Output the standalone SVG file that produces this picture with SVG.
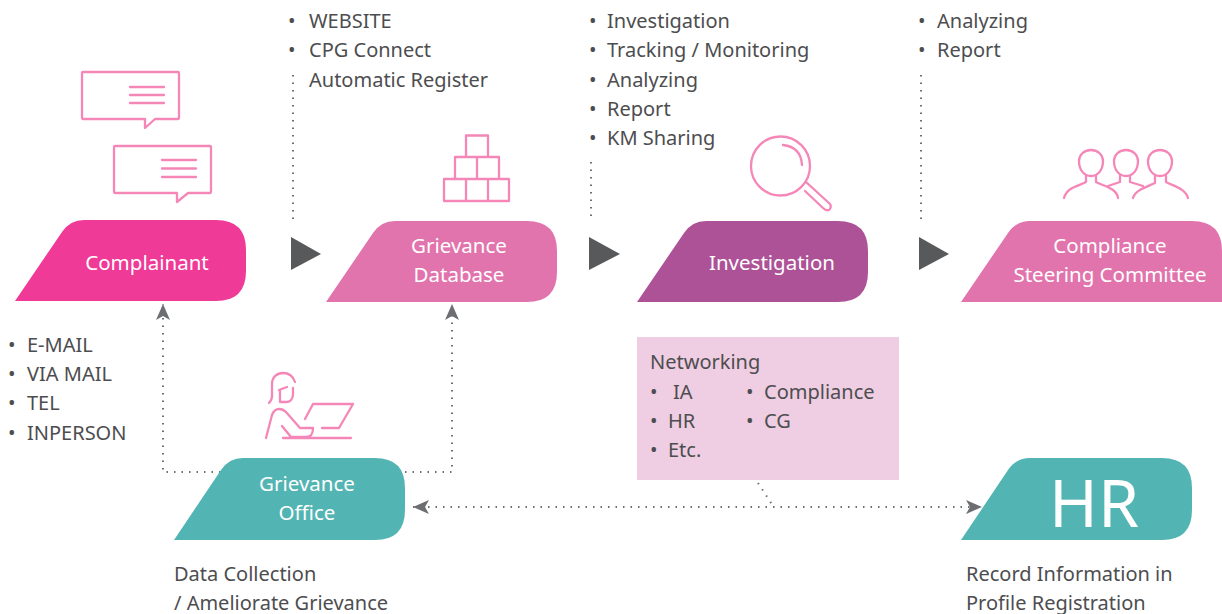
<svg xmlns="http://www.w3.org/2000/svg" width="1222" height="614" viewBox="0 0 1222 614">
<style>
text{font-family:"Noto Sans","Open Sans",sans-serif;font-size:20px;fill:#4d4d4f}
.w{fill:#fff;text-anchor:middle;font-size:20.500px}
.i{fill:none;stroke:#f587b8;stroke-width:2.300;stroke-linecap:round;stroke-linejoin:round}
.d{fill:none;stroke:#6d6e71;stroke-width:2;stroke-dasharray:1.5 6}
.t{fill:#58595b}
</style>
<defs>
<marker id="a" markerWidth="18" markerHeight="16" refX="16" refY="7" orient="auto-start-reverse" markerUnits="userSpaceOnUse"><path d="M0,0L16,7L0,14L4,7Z" fill="#6d6e71"/></marker>
</defs>
<g id="connectors">
<path class="d" d="M293,75V221M591,162V221M921,75V221"/>
<path class="d" d="M228,472H163V304" marker-end="url(#a)"/>
<path class="d" d="M405,472H452V304" marker-end="url(#a)"/>
<path class="d" d="M413,507H982" marker-start="url(#a)" marker-end="url(#a)"/>
<path class="d" d="M758,483L773,506"/>
<path class="t" d="M291,237L321,254L291,270Z"/>
<path class="t" d="M589,237L620,254L589,270Z"/>
<path class="t" d="M919,237L949,254L919,270Z"/>
</g>
<g id="complainant">
<path d="M15,301L62,232Q70,220 84,220H216Q246,220 246,250V271Q246,301 216,301Z" fill="#ef3a97"/>
<text class="w" x="147" y="270">Complainant</text>
<path class="i" d="M83,72H178Q179,72 179,73V118Q179,119 178,119H155L145,128V119H83Q82,119 82,118V73Q82,72 83,72Z"/>
<path class="i" d="M130,87H164M130,95H164M130,103H164"/>
<path class="i" d="M115,146H210Q211,146 211,147V192Q211,193 210,193H188L177,202V193H115Q114,193 114,192V147Q114,146 115,146Z"/>
<path class="i" d="M162,160H196M162,168.500H196M162,177H196"/>
<text x="8" y="352">•</text><text x="27" y="352">E-MAIL</text>
<text x="8" y="381">•</text><text x="27" y="381">VIA MAIL</text>
<text x="8" y="410">•</text><text x="27" y="410">TEL</text>
<text x="8" y="440">•</text><text x="27" y="440">INPERSON</text>
</g>
<g id="grievance-database">
<path d="M326,302L373,233Q381,221 395,221H527Q557,221 557,251V272Q557,302 527,302Z" fill="#e274ad"/>
<text class="w" x="459" y="253">Grievance</text>
<text class="w" x="459" y="282">Database</text>
<path class="i" d="M466,135.500H488V157H466ZM455,157H477V179H455ZM477,157H499V179H477ZM444,179H466V201H444ZM466,179H488V201H466ZM488,179H509V201H488Z"/>
<text x="288" y="28">•</text><text x="309" y="28">WEBSITE</text>
<text x="288" y="57">•</text><text x="309" y="57">CPG Connect</text>
<text x="309" y="87">Automatic Register</text>
</g>
<g id="investigation">
<path d="M637,302L684,233Q692,221 706,221H838Q868,221 868,251V272Q868,302 838,302Z" fill="#ae5297"/>
<text class="w" x="772" y="270">Investigation</text>
<circle class="i" cx="780.500" cy="166" r="29.500"/>
<path class="i" d="M783,145Q801,147 802,165M806,182L830,204Q832,207 829,210Q826,211 823,208L805,191"/>
<text x="589" y="28">•</text><text x="607" y="28">Investigation</text>
<text x="589" y="57">•</text><text x="607" y="57">Tracking / Monitoring</text>
<text x="589" y="87">•</text><text x="607" y="87">Analyzing</text>
<text x="589" y="116">•</text><text x="607" y="116">Report</text>
<text x="589" y="145">•</text><text x="607" y="145">KM Sharing</text>
</g>
<g id="compliance-steering-committee">
<path d="M961,302L1008,233Q1016,221 1030,221H1192Q1222,221 1222,251V302Z" fill="#e274ad"/>
<text class="w" x="1110" y="253">Compliance</text>
<text class="w" x="1110" y="282">Steering Committee</text>
<path class="i" d="M1086,176V182C1079,186 1067,187 1064,198"/>
<path class="i" d="M1091,150C1098,150 1103,155 1103,161C1103,170 1098,176 1091,176C1084,176 1079,170 1079,161C1079,155 1084,150 1091,150Z"/>
<path class="i" d="M1096,176V182C1103,186 1117,188 1118,198M1108,186L1120,182V176"/>
<path class="i" d="M1126,150C1133,150 1138,155 1138,161C1138,170 1133,176 1126,176C1119,176 1114,170 1114,161C1114,155 1119,150 1126,150Z"/>
<path class="i" d="M1130,176V182L1143,186M1133,198C1135,190 1147,187 1155,183V176"/>
<path class="i" d="M1160,150C1167,150 1172,155 1172,161C1172,170 1167,176 1160,176C1153,176 1148,170 1148,161C1148,155 1153,150 1160,150Z"/>
<path class="i" d="M1166,176V182C1173,186 1185,188 1188,198"/>
</g>
<g id="networking">
<rect x="637" y="337" width="262" height="143" fill="#efcde2"/>
<text x="650" y="369">Networking</text>
<text x="650" y="399">•</text><text x="673" y="399">IA</text>
<text x="746" y="399">•</text><text x="764" y="399">Compliance</text>
<text x="650" y="428">•</text><text x="668" y="428">HR</text>
<text x="746" y="428">•</text><text x="764" y="428">CG</text>
<text x="650" y="457">•</text><text x="668" y="457">Etc.</text>
</g>
<g id="grievance-office">
<path d="M174,540L221,470Q229,458 243,458H375Q405,458 405,488V510Q405,540 375,540Z" fill="#53b5b3"/>
<text class="w" x="307" y="491">Grievance</text>
<text class="w" x="307" y="520">Office</text>
<path class="i" d="M269,403C271,401 272,399 272,396V384C272,377 277,373 283,373C289,373 293,376 295,382M279,390L287,387M280,390V402H286C291,402 293,398 293,394V388"/>
<path class="i" d="M266,438L272,415C274,410 276,409 279,409C282,409 284,410 286,412L300,428H313C313,433 312,437 306,437H291L282,426M283,438H351M305,419L313,404H353L339,428H322"/>
<text x="174" y="581">Data Collection</text>
<text x="174" y="610">/ Ameliorate Grievance</text>
</g>
<g id="hr">
<path d="M961,540L1008,470Q1016,458 1030,458H1162Q1192,458 1192,488V510Q1192,540 1162,540Z" fill="#53b5b3"/>
<text class="w" x="1094" y="527" style="font-size:66px">HR</text>
<text x="966" y="581">Record Information in</text>
<text x="966" y="610">Profile Registration</text>
</g>
<g id="report-notes">
<text x="918" y="28">•</text><text x="937" y="28">Analyzing</text>
<text x="918" y="57">•</text><text x="937" y="57">Report</text>
</g>
</svg>
